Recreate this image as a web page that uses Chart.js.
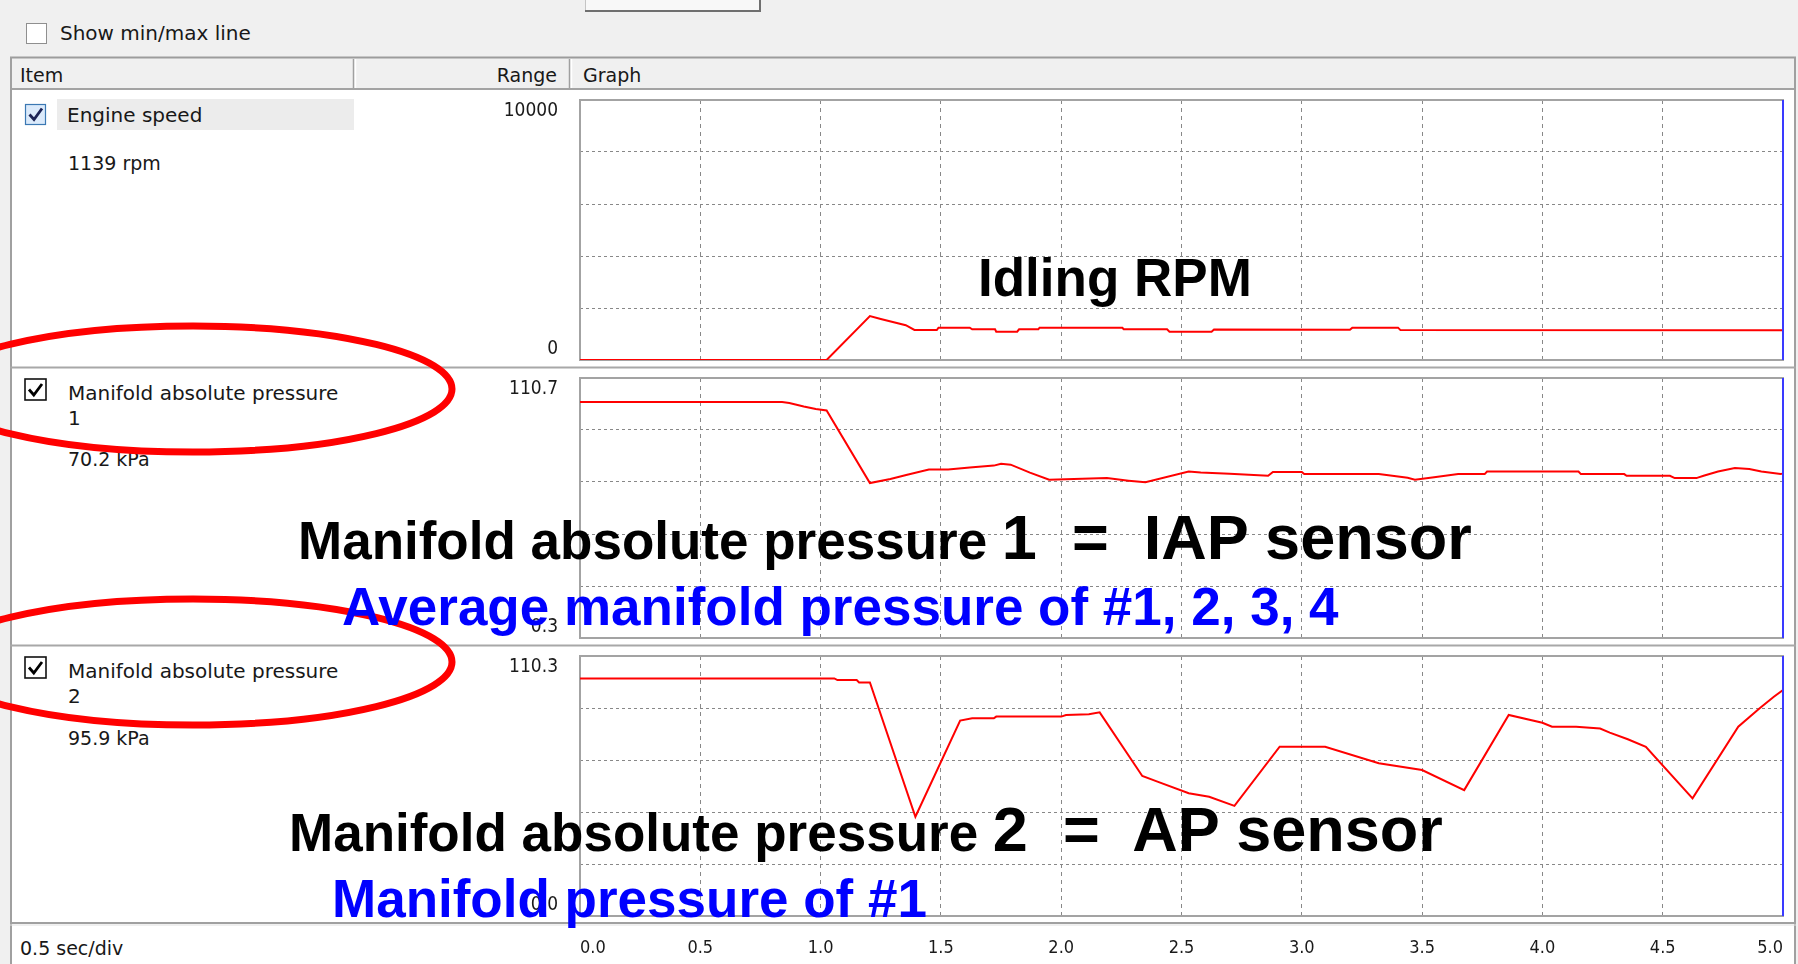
<!DOCTYPE html>
<html>
<head>
<meta charset="utf-8">
<script src="https://cdn.jsdelivr.net/npm/chart.js@4.4.1/dist/chart.umd.min.js"></script>
<style>
html,body{margin:0;padding:0;width:1798px;height:964px;overflow:hidden;background:#f0f0f0;}
svg{position:absolute;left:0;top:0;}
#chrome{z-index:0;}
#notes{z-index:5;pointer-events:none;}
canvas{position:absolute;z-index:2;}
.ui{font-family:"DejaVu Sans",sans-serif;fill:#181818;}
.note{font-family:"Liberation Sans",Arial,sans-serif;font-weight:bold;white-space:pre;}
</style>
</head>
<body>
<svg id="chrome" width="1798" height="964">
  <rect x="0" y="0" width="1798" height="964" fill="#f0f0f0"/>
  <!-- top button -->
  <rect x="585" y="-3" width="175" height="14" fill="#f8f8f8"/>
  <line x1="585" y1="11" x2="761" y2="11" stroke="#6f6f6f" stroke-width="2"/>
  <line x1="760" y1="-2" x2="760" y2="12" stroke="#6f6f6f" stroke-width="2"/>
  <line x1="585.5" y1="-2" x2="585.5" y2="10" stroke="#c4c4c4" stroke-width="1"/>
  <!-- show min/max checkbox -->
  <rect x="26.5" y="23.5" width="20" height="20" fill="#ffffff" stroke="#8f8f8f" stroke-width="1"/>
  <text class="ui" x="60" y="40" font-size="20">Show min/max line</text>
  <!-- panel -->
  <rect x="10" y="57" width="1785" height="910" fill="#ffffff"/>
  <rect x="11" y="58" width="1783" height="31" fill="#f0f0f0"/>
  <line x1="10" y1="57.5" x2="1796" y2="57.5" stroke="#9c9c9c" stroke-width="2"/>
  <line x1="10" y1="89" x2="1796" y2="89" stroke="#a3a3a3" stroke-width="2"/>
  <line x1="11" y1="57" x2="11" y2="964" stroke="#a0a0a0" stroke-width="2"/>
  <line x1="1795" y1="57" x2="1795" y2="964" stroke="#a0a0a0" stroke-width="2"/>
  <line x1="353.5" y1="59" x2="353.5" y2="88" stroke="#a0a0a0" stroke-width="1.5"/>
  <line x1="355.5" y1="59" x2="355.5" y2="88" stroke="#ffffff" stroke-width="1.5"/>
  <line x1="569.5" y1="59" x2="569.5" y2="88" stroke="#a0a0a0" stroke-width="1.5"/>
  <line x1="571.5" y1="59" x2="571.5" y2="88" stroke="#ffffff" stroke-width="1.5"/>
  <text class="ui" x="20" y="82" font-size="19">Item</text>
  <text class="ui" x="557" y="82" font-size="19" text-anchor="end">Range</text>
  <text class="ui" x="583" y="82" font-size="19">Graph</text>
  <!-- row separators -->
  <line x1="10" y1="367.5" x2="1796" y2="367.5" stroke="#a8a8a8" stroke-width="2"/>
  <line x1="10" y1="645.5" x2="1796" y2="645.5" stroke="#a8a8a8" stroke-width="2"/>
  <line x1="10" y1="923" x2="1796" y2="923" stroke="#a0a0a0" stroke-width="2"/>
  <line x1="10" y1="925" x2="1796" y2="925" stroke="#e0e0e0" stroke-width="1"/>
  <!-- row 1 -->
  <rect x="57" y="99" width="297" height="31" fill="#ececec"/>
  <rect x="25.5" y="104.5" width="20" height="20" fill="#dbeafb" stroke="#3b78b3" stroke-width="1.2"/>
  <path d="M29.5 114.5 L34 119.5 L42 108.5" fill="none" stroke="#1c2456" stroke-width="2.8"/>
  <text class="ui" x="67" y="122" font-size="20">Engine speed</text>
  <text class="ui" x="68" y="170" font-size="19">1139 rpm</text>
  <!-- row 2 -->
  <rect x="25" y="379" width="21" height="21" fill="#ffffff" stroke="#111" stroke-width="1.6"/>
  <path d="M29 389.5 L33.8 395 L42 384" fill="none" stroke="#000" stroke-width="2.8"/>
  <text class="ui" x="68" y="400" font-size="20">Manifold absolute pressure</text>
  <text class="ui" x="68" y="425" font-size="20">1</text>
  <text class="ui" x="68" y="466" font-size="19">70.2 kPa</text>
  <!-- row 3 -->
  <rect x="25" y="657" width="21" height="21" fill="#ffffff" stroke="#111" stroke-width="1.6"/>
  <path d="M29 667.5 L33.8 673 L42 662" fill="none" stroke="#000" stroke-width="2.8"/>
  <text class="ui" x="68" y="678" font-size="20">Manifold absolute pressure</text>
  <text class="ui" x="68" y="703" font-size="20">2</text>
  <text class="ui" x="68" y="745" font-size="19">95.9 kPa</text>
  <!-- bottom -->
  <text class="ui" x="20" y="955" font-size="19">0.5 sec/div</text>
</svg>

<canvas id="c1" width="1393" height="320" style="left:400px;top:70px;width:1393px;height:320px;"></canvas>
<canvas id="c2" width="1393" height="320" style="left:400px;top:348px;width:1393px;height:320px;"></canvas>
<canvas id="c3" width="1393" height="338" style="left:400px;top:626px;width:1393px;height:338px;"></canvas>

<svg id="notes" width="1798" height="964">
  <ellipse cx="193" cy="389" rx="259" ry="63" fill="none" stroke="#ff0000" stroke-width="7"/>
  <ellipse cx="193" cy="662" rx="259" ry="63" fill="none" stroke="#ff0000" stroke-width="7"/>
  <text class="note" x="978" y="296" font-size="53" fill="#000">Idling RPM</text>
  <text class="note" x="298" y="559" font-size="53" fill="#000">Manifold absolute pressure <tspan font-size="63">1  =  IAP sensor</tspan></text>
  <text class="note" x="342" y="625" font-size="53" fill="#0000ff">Average manifold pressure of #1, 2, 3, 4</text>
  <text class="note" x="289" y="851" font-size="53" fill="#000">Manifold absolute pressure <tspan font-size="63">2  =  AP sensor</tspan></text>
  <text class="note" x="332" y="917" font-size="53" fill="#0000ff">Manifold pressure of #1</text>
</svg>

<script>
// ---- data ----
const rpmTime = [0, 1.025, 1.205, 1.25, 1.30, 1.354, 1.39, 1.483, 1.49, 1.62, 1.63, 1.725, 1.73, 1.817, 1.825, 1.905, 1.91, 2.254, 2.26, 2.44, 2.45, 2.625, 2.635, 3.20, 3.21, 3.40, 3.41, 5.0];
const rpmValue = [0, 0, 1690, 1580, 1460, 1340, 1154, 1154, 1242, 1242, 1181, 1181, 1090, 1090, 1181, 1181, 1242, 1242, 1181, 1181, 1090, 1090, 1170, 1160, 1244, 1244, 1150, 1140];

const map1Time = [0, 0.84, 0.87, 0.93, 0.98, 1.025, 1.205, 1.29, 1.36, 1.45, 1.53, 1.62, 1.72, 1.75, 1.79, 1.87, 1.95, 2.19, 2.28, 2.35, 2.53, 2.58, 2.70, 2.86, 2.88, 3.0, 3.01, 3.32, 3.40, 3.44, 3.47, 3.55, 3.65, 3.76, 3.77, 4.15, 4.16, 4.34, 4.35, 4.53, 4.55, 4.64, 4.67, 4.73, 4.80, 4.86, 4.91, 4.99, 5.0];
const map1Value = [100.5, 100.5, 100.1, 98.6, 97.5, 96.9, 66.1, 67.8, 69.6, 71.8, 71.8, 72.7, 73.5, 74.3, 73.9, 70.5, 67.5, 68.2, 67.1, 66.4, 71.0, 70.6, 70.0, 69.2, 70.8, 70.8, 69.9, 69.9, 68.9, 68.3, 67.5, 68.6, 69.9, 69.9, 71.0, 71.0, 69.9, 69.9, 69.2, 69.2, 68.2, 68.2, 69.2, 71.0, 72.5, 72.1, 71.0, 69.9, 70.2];

const map2Time = [0, 1.057, 1.07, 1.15, 1.16, 1.205, 1.394, 1.58, 1.63, 1.72, 1.73, 2.0, 2.02, 2.115, 2.16, 2.337, 2.40, 2.53, 2.615, 2.72, 2.908, 3.097, 3.32, 3.50, 3.675, 3.86, 4.0, 4.04, 4.14, 4.24, 4.28, 4.355, 4.43, 4.624, 4.814, 4.903, 4.962, 5.0];
const map2Value = [100.8, 100.8, 100.1, 100.1, 99.1, 99.1, 42.1, 82.9, 83.9, 83.9, 84.6, 84.6, 85.3, 85.6, 86.4, 59.4, 57.0, 52.1, 50.6, 46.7, 71.8, 71.8, 64.8, 61.9, 53.4, 85.3, 82.0, 80.3, 80.3, 79.5, 77.8, 75.0, 71.8, 49.9, 80.3, 88.1, 93.0, 95.9];

const xTickValues = [0, 0.5, 1.0, 1.5, 2.0, 2.5, 3.0, 3.5, 4.0, 4.5, 5.0];
const xTickLabels = ['0.0', '0.5', '1.0', '1.5', '2.0', '2.5', '3.0', '3.5', '4.0', '4.5', '5.0'];
const rangeMax = [10000, 110.7, 110.3];
const rangeMin = [0, 0.3, 0.0];
const rangeMaxLabels = ['10000', '110.7', '110.3'];
const rangeMinLabels = ['0', '0.3', '0.0'];
const cursorTime = 5.0;

// ---- drawing ----
const framePlugin = {
  id: 'frame',
  beforeDatasetsDraw(chart) {
    const a = chart.chartArea, c = chart.ctx;
    c.save();
    c.strokeStyle = '#a3a3a3';
    c.lineWidth = 2;
    c.strokeRect(a.left, a.top, a.right - a.left, a.bottom - a.top);
    c.restore();
  },
  afterDatasetsDraw(chart) {
    const a = chart.chartArea, c = chart.ctx;
    const x = chart.scales.x.getPixelForValue(cursorTime);
    c.save();
    c.strokeStyle = '#3a3aff';
    c.lineWidth = 2;
    c.beginPath();
    c.moveTo(x, a.top);
    c.lineTo(x, a.bottom);
    c.stroke();
    c.restore();
  }
};

const numFont = "'DejaVu Sans Condensed','DejaVu Sans',sans-serif";
const gridColor = c => (c.index === 0 || c.index === c.scale.ticks.length - 1) ? 'rgba(0,0,0,0)' : '#888888';

function makeChart(id, times, values, k, showX) {
  const yGrid = [];
  for (let i = 0; i <= 5; i++) yGrid.push(rangeMin[k] + (rangeMax[k] - rangeMin[k]) * i / 5);
  new Chart(document.getElementById(id), {
    type: 'line',
    data: {
      datasets: [{
        data: times.map((t, i) => ({x: t, y: values[i]})),
        borderColor: '#ff0000',
        borderWidth: 2,
        pointRadius: 0,
        tension: 0,
        fill: false
      }]
    },
    options: {
      responsive: false,
      animation: false,
      events: [],
      layout: {padding: {top: 30, bottom: showX ? 0 : 30, left: 0, right: 10}},
      plugins: {legend: {display: false}, tooltip: {enabled: false}},
      scales: {
        x: {
          type: 'linear', min: 0, max: 5,
          afterBuildTicks: s => { s.ticks = xTickValues.map(v => ({value: v})); },
          afterFit: s => { s.height = showX ? 48 : 0; s.paddingLeft = 0; s.paddingRight = 0; },
          grid: {color: gridColor, lineWidth: 1, drawTicks: false, borderDash: [4, 4]},
          border: {display: false, dash: [4, 4]},
          ticks: {
            display: showX, autoSkip: false, maxRotation: 0, minRotation: 0, align: 'inner', padding: 22,
            color: '#1a1a1a', font: {family: numFont, size: 18},
            callback: (v, i) => xTickLabels[i]
          }
        },
        y: {
          type: 'linear', min: rangeMin[k], max: rangeMax[k],
          afterBuildTicks: s => { s.ticks = yGrid.map(v => ({value: v})); },
          afterFit: s => { s.width = 180; s.paddingTop = 0; s.paddingBottom = 0; },
          grid: {color: gridColor, lineWidth: 1, drawTicks: false, borderDash: [3, 3]},
          border: {display: false, dash: [3, 3]},
          ticks: {
            autoSkip: false, padding: 22, color: '#1a1a1a', font: {family: numFont, size: 19},
            callback: (v, i, t) => i === t.length - 1 ? ['', rangeMaxLabels[k]] : (i === 0 ? [rangeMinLabels[k], ''] : '')
          }
        }
      }
    },
    plugins: [framePlugin]
  });
}

makeChart('c1', rpmTime, rpmValue, 0, false);
makeChart('c2', map1Time, map1Value, 1, false);
makeChart('c3', map2Time, map2Value, 2, true);
</script>
</body>
</html>
